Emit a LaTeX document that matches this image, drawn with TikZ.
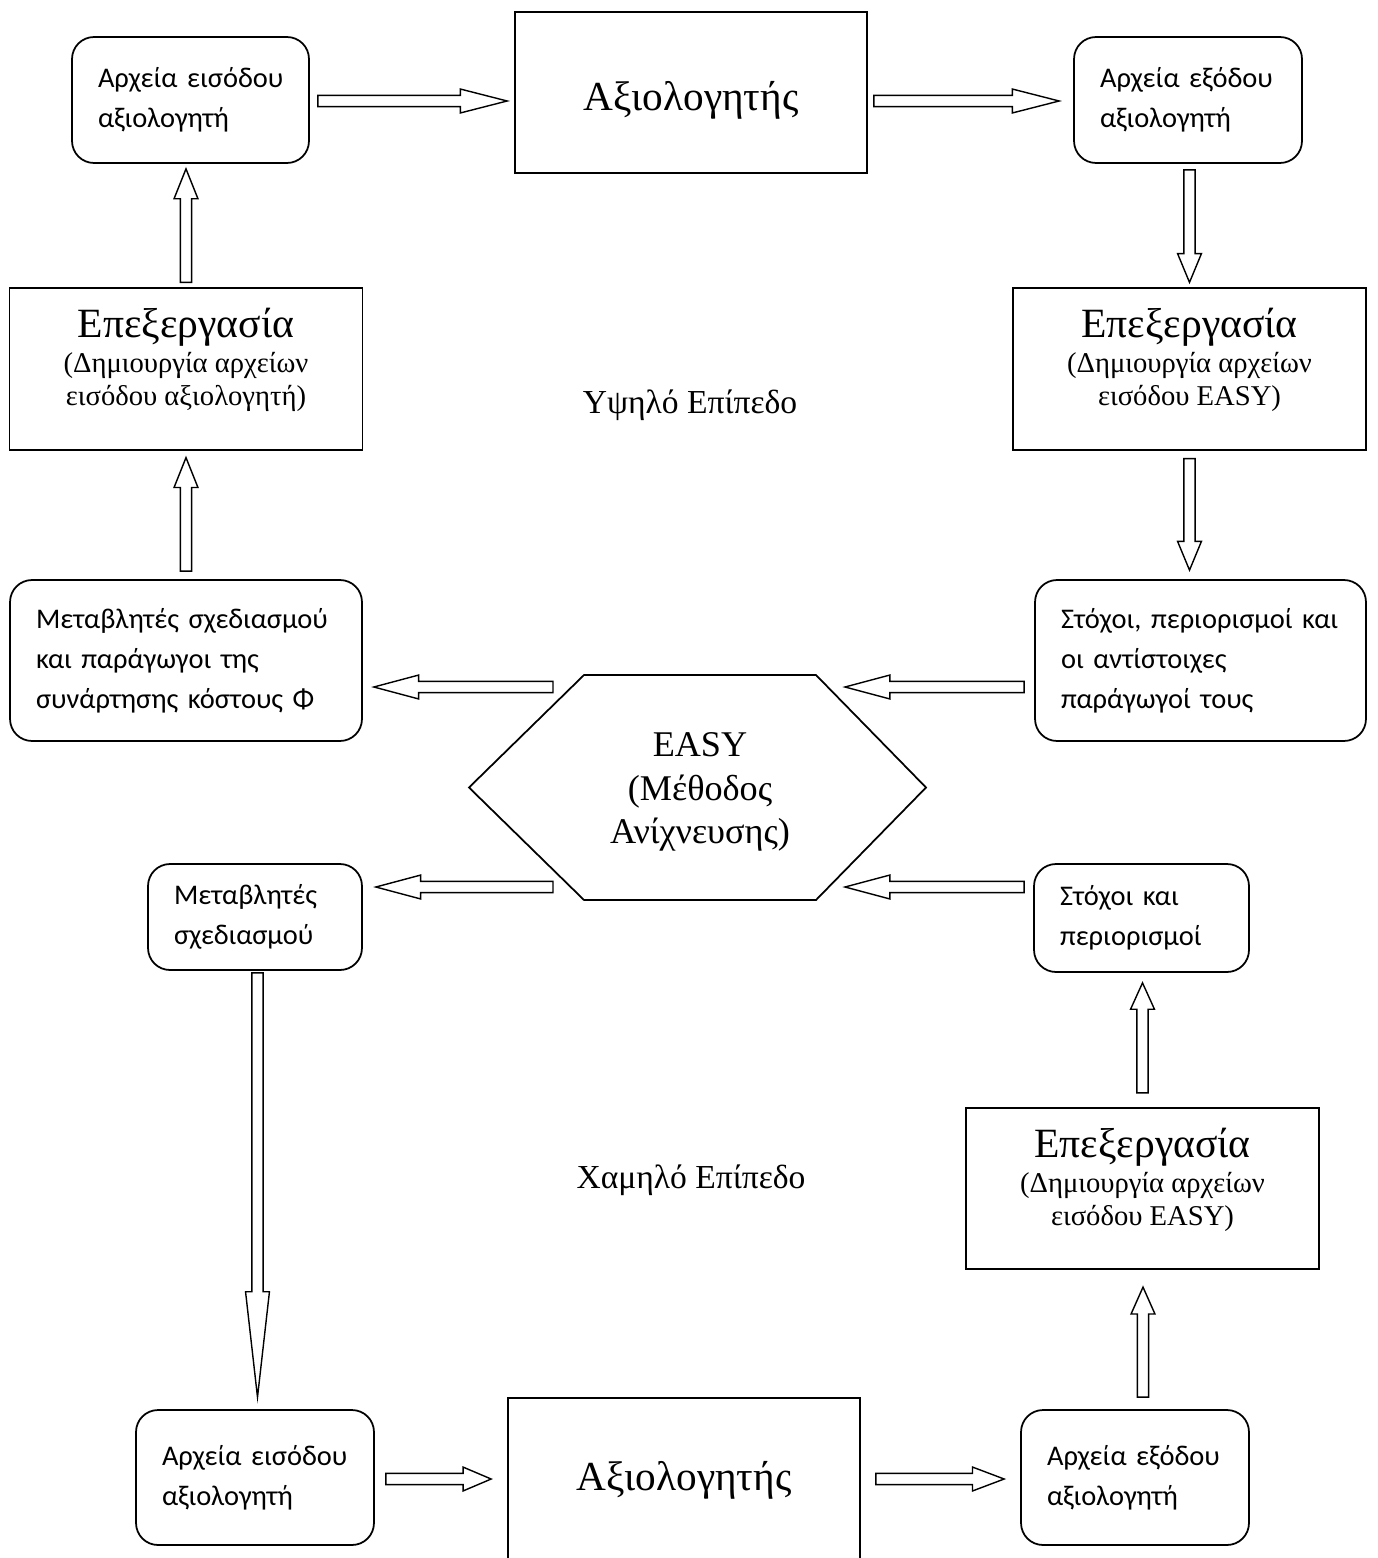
\documentclass[tikz,border=0pt]{standalone}
\usepackage{fontspec}
\setmainfont{Liberation Serif}
\newfontfamily\calib{Carlito}
\usetikzlibrary{calc}

% hollow block arrow: #1 start, #2 tip, #3 head length
\newcommand{\blockarrow}[3]{%
  \coordinate (ba-a) at (#1);
  \coordinate (ba-b) at (#2);
  \coordinate (ba-c) at ($(ba-b)!#3!(ba-a)$);
  \draw[barrow] ($(ba-a)!3.2pt!90:(ba-b)$) -- ($(ba-c)!3.2pt!90:(ba-b)$)
    -- ($(ba-c)!6.8pt!90:(ba-b)$) -- (ba-b) -- ($(ba-c)!6.8pt!-90:(ba-b)$)
    -- ($(ba-c)!3.2pt!-90:(ba-b)$) -- ($(ba-a)!3.2pt!-90:(ba-b)$) -- cycle;
}

\begin{document}
\begin{tikzpicture}[x=0.02cm, y=-0.02cm,
  rbox/.style={draw, line width=1pt, rounded corners=0.44cm, inner xsep=0.52cm, inner ysep=0pt,
               align=left, font=\calib\fontsize{16.2}{22.7}\selectfont},
  sbox/.style={draw, line width=1pt, inner sep=0pt},
  evaltext/.style={font=\fontsize{23.5}{27}\selectfont},
  procbox/.style={sbox, minimum width=7.06cm, minimum height=3.23cm},
  proctext/.style={align=center, font=\fontsize{16.3}{18.7}\selectfont},
  level/.style={font=\fontsize{19.1}{22}\selectfont},
  barrow/.style={draw, line width=0.8pt, fill=white}
]
  \useasboundingbox (0,0) rectangle (1377,1558);

  % Upper level
  \node[rbox, text width=3.7cm, minimum height=2.52cm] (in1) at (190.5,100) {Αρχεία~εισόδου\\αξιολογητή};
  \node[sbox, minimum width=7.04cm, minimum height=3.22cm] (eval1) at (691,92.5) {};
  \node[evaltext] (eval1-t) at ($(eval1)+(0,8)$) {Αξιολογητής};
  \node[rbox, text width=3.52cm, minimum height=2.52cm] (out1) at (1188,100) {Αρχεία~εξόδου\\αξιολογητή};
  \node[procbox] (procL) at (186,369) {};
  \node[proctext] (procL-t) at ($(procL)+(0,-9)$) {{\fontsize{23.7}{25}\selectfont Επεξεργασία}\\[0.05cm](Δημιουργία αρχείων\\εισόδου αξιολογητή)};
  \node[procbox] (procR) at (1189.5,369) {};
  \node[proctext] (procR-t) at ($(procR)+(0,-9)$) {{\fontsize{23.7}{25}\selectfont Επεξεργασία}\\[0.05cm](Δημιουργία αρχείων\\εισόδου EASY)};
  \node[level] (high) at (690,405) {Υψηλό Επίπεδο};
  \node[rbox, text width=6cm, minimum height=3.22cm] (varA) at (186,660.5) {Μεταβλητές σχεδιασμού\\και παράγωγοι της\\συνάρτησης κόστους Φ};
  \node[rbox, text width=5.58cm, minimum height=3.22cm] (goalsA) at (1200.5,660.5) {Στόχοι,~περιορισμοί~και\\οι αντίστοιχες\\παράγωγοί τους};

  % EASY
  \node[align=center, font=\fontsize{20.6}{24.6}\selectfont] (easy) at (700,792) {EASY\\(Μέθοδος\\Ανίχνευσης)};
  \draw[line width=1pt] ($(easy)+(-231,-4.5)$) -- ($(easy)+(-116,-117)$) -- ($(easy)+(116,-117)$)
    -- ($(easy)+(226,-4.5)$) -- ($(easy)+(116,108)$) -- ($(easy)+(-116,108)$) -- cycle;

  % Lower level
  \node[rbox, text width=3.24cm, minimum height=2.12cm] (varB) at (255,917) {Μεταβλητές\\σχεδιασμού};
  \node[rbox, text width=3.26cm, minimum height=2.16cm] (goalsB) at (1141.5,918) {Στόχοι και\\περιορισμοί};
  \node[level] (low) at (691,1180) {Χαμηλό Επίπεδο};
  \node[procbox] (procB) at (1142.5,1188.5) {};
  \node[proctext] (procB-t) at ($(procB)+(0,-9)$) {{\fontsize{23.7}{25}\selectfont Επεξεργασία}\\[0.05cm](Δημιουργία αρχείων\\εισόδου EASY)};
  \node[rbox, text width=3.72cm, minimum height=2.7cm] (in2) at (255,1477.5) {Αρχεία~εισόδου\\αξιολογητή};
  \node[sbox, minimum width=7.04cm, minimum height=3.34cm] (eval2) at (684,1481.5) {};
  \node[evaltext] (eval2-t) at ($(eval2)+(0,-1)$) {Αξιολογητής};
  \node[rbox, text width=3.52cm, minimum height=2.7cm] (out2) at (1135,1477.5) {Αρχεία~εξόδου\\αξιολογητή};

  % Arrows
  \blockarrow{$(in1.east)+(8,1)$}{$(in1.east -| eval1.west)+(-7,1)$}{26.6pt}
  \blockarrow{$(eval1.east |- out1.west)+(6,1)$}{$(out1.west)+(-14,1)$}{26.6pt}
  \blockarrow{$(out1.south)+(1.5,6)$}{$(procR.north)+(0,-5)$}{16.4pt}
  \blockarrow{$(procR.south)+(0,8)$}{$(procR.south |- goalsA.north)+(0,-9)$}{16.4pt}
  \blockarrow{$(goalsA.west)+(-10,26.5)$}{$(easy)+(145,-105)$}{25.5pt}
  \blockarrow{$(easy)+(-147,-105)$}{$(varA.east)+(11,26.5)$}{25.5pt}
  \blockarrow{$(varA.north)+(0,-8)$}{$(procL.south)+(0,7)$}{17pt}
  \blockarrow{$(procL.north)+(0,-5)$}{$(in1.south -| procL.north)+(0,5)$}{17pt}
  \blockarrow{$(goalsB.west)+(-9,-31)$}{$(easy)+(145,95)$}{25.5pt}
  \blockarrow{$(easy)+(-147,95)$}{$(varB.east)+(13,-30)$}{25.5pt}
  \blockarrow{$(varB.south)+(2.5,2)$}{$(in2.north)+(2.5,-12)$}{60pt}
  \blockarrow{$(in2.east)+(11,1.5)$}{$(eval2.west)+(-16,-2.5)$}{16pt}
  \blockarrow{$(eval2.east)+(15,-2.5)$}{$(out2.west)+(-16,1.5)$}{18pt}
  \blockarrow{$(out2.north)+(8,-12)$}{$(procB.south)+(0.5,17)$}{15.3pt}
  \blockarrow{$(procB.north)+(0,-14)$}{$(goalsB.south)+(1,10)$}{15pt}
\end{tikzpicture}
\end{document}
